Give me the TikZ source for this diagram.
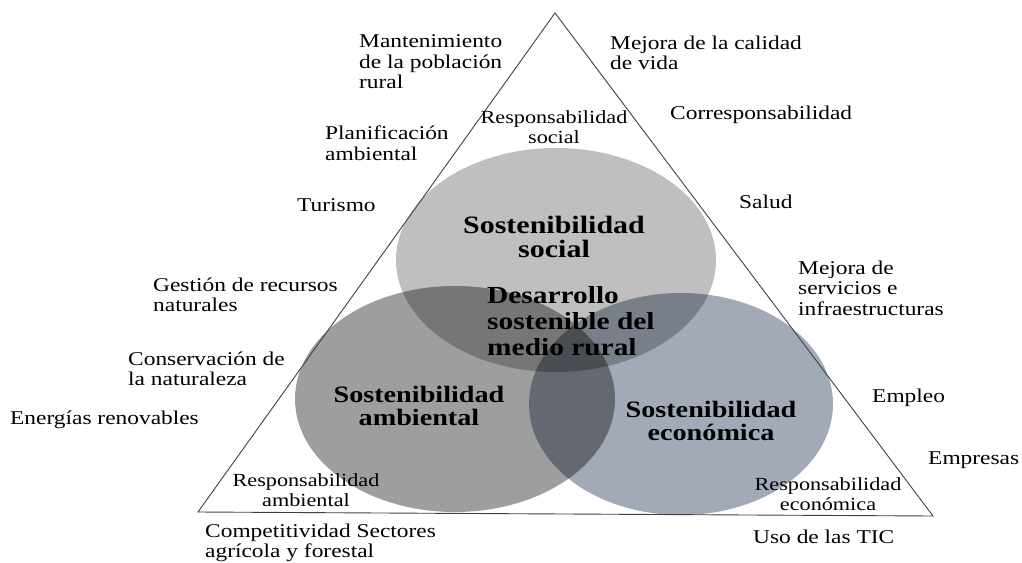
\documentclass[tikz,border=0pt]{standalone}
\usepackage{fontspec}
\setmainfont{Liberation Serif}[FakeStretch=1.2]
\usetikzlibrary{scopes}

\definecolor{socgray}{RGB}{191,191,191}
\definecolor{ambgray}{RGB}{158,158,158}
\definecolor{ecogray}{RGB}{162,170,183}

\begin{document}
\begin{tikzpicture}[
    x=1pt,y=-1pt,
    lbl/.style={anchor=west,align=left,inner sep=0pt,font=\fontsize{19.5}{20.5}\selectfont},
    resp/.style={align=center,inner sep=0pt,font=\fontsize{18.5}{19.5}\selectfont},
    sost/.style={align=center,inner sep=0pt,font=\fontsize{23.5}{23}\selectfont\bfseries},
    edge/.style={draw=black!75,line width=0.9pt},
]
\useasboundingbox (0,0) rectangle (1022,562);

% circles
\begin{scope}[blend group=multiply]
    \fill[socgray] (556,260) ellipse [x radius=160, y radius=112];
    \fill[ambgray] (455,399) ellipse [x radius=160, y radius=113];
    \fill[ecogray] (681,404) ellipse [x radius=152, y radius=111];
\end{scope}

% triangle
\coordinate (apex) at (555,13);
\coordinate (bl) at (198,512);
\coordinate (br) at (933,516);
\draw[edge] (apex) -- (bl) -- (br) -- cycle;

% inside
\node[resp] (rsoc) at (554,127) {Responsabilidad\\social};
\node[resp] (ramb) at (306,490) {Responsabilidad\\ambiental};
\node[resp] (reco) at (828,494) {Responsabilidad\\económica};
\node[sost,font=\fontsize{25}{24}\selectfont\bfseries] (ssoc) at (554,237) {Sostenibilidad\\social};
\node[sost] (samb) at (419,406) {Sostenibilidad\\ambiental};
\node[sost] (seco) at (711,421) {Sostenibilidad\\económica};
\node[sost,anchor=west,align=left,font=\fontsize{24.5}{26}\selectfont\bfseries] (dsm) at (487,321)
    {Desarrollo\\sostenible del\\medio rural};

% left side
{[every node/.append style=lbl]
    \node (mant) at (359,62) {Mantenimiento\\de la población\\rural};
    \node (plan) at (325,143) {Planificación\\ambiental};
    \node (tur) at (297,205) {Turismo};
    \node (gest) at (153,295) {Gestión de recursos\\naturales};
    \node (cons) at (128,369) {Conservación de\\la naturaleza};
    \node (ener) at (10,420) {Energías renovables};
    \node (comp) at (205,543) {Competitividad Sectores\\agrícola y forestal};
}

% right side
{[every node/.append style=lbl]
    \node (mejcal) at (610,53) {Mejora de la calidad\\de vida};
    \node (corr) at (670,115) {Corresponsabilidad};
    \node (salud) at (739,202) {Salud};
    \node (mejserv) at (798,288) {Mejora de\\servicios e\\infraestructuras};
    \node (empleo) at (872,398) {Empleo};
    \node (empresas) at (928,460) {Empresas};
    \node (tic) at (753,537) {Uso de las TIC};
}
\end{tikzpicture}
\end{document}
